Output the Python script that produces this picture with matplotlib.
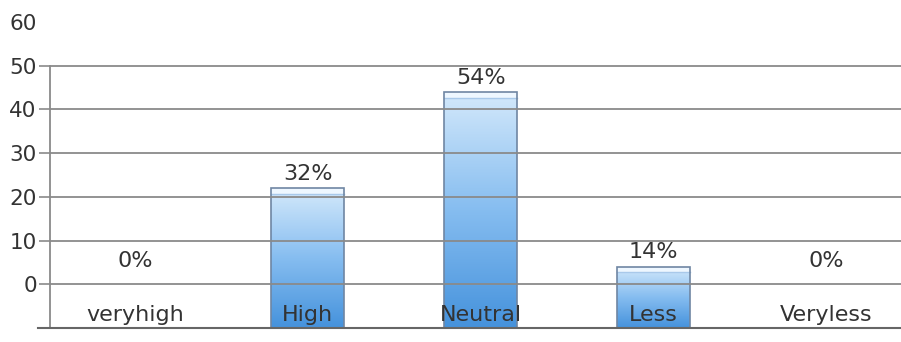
import numpy as np
import matplotlib
matplotlib.use('Agg')
import matplotlib.pyplot as plt
from matplotlib.colors import LinearSegmentedColormap

# data
categories = ["veryhigh", "High", "Neutral", "Less", "Veryless"]
percents = [0, 32, 54, 14, 0]
tick_values = [0, 10, 20, 30, 40, 50, 60]

# the printed y labels sit one step above the bar baseline
offset = 10

text_color = "#333333"
grid_color = "#8a8a8a"

fig = plt.figure(figsize=(9.01, 3.42), dpi=100)
ax = fig.add_axes([50 / 901, (342 - 328) / 342, 851 / 901, 306 / 342])

for s in ax.spines.values():
    s.set_visible(False)

# gridlines at the labelled ticks (no line at the top label)
for t in tick_values[:-1]:
    ax.axhline(t + offset, color=grid_color, lw=1.3, zorder=3)

# left axis line and baseline, running slightly past the axis
ax.plot([-0.49, -0.49], [0, tick_values[-2] + offset], color=grid_color, lw=1.3,
        zorder=3, clip_on=False)
ax.plot([-0.56, 4.43], [0, 0], color="#666666", lw=1.5, zorder=3, clip_on=False)

cmap = LinearSegmentedColormap.from_list("bar", ["#4592dc", "#86bdf0", "#d4e9fb"])
grad = np.linspace(0, 1, 256).reshape(-1, 1)
width = 0.42
bars = ax.bar(range(len(categories)), percents, width=width, facecolor="none",
              edgecolor="#6f86a3", lw=1.2, zorder=2)
for b, v in zip(bars, percents):
    if v <= 0:
        continue
    x0 = b.get_x()
    im = ax.imshow(grad, cmap=cmap, aspect="auto", origin="lower",
                   extent=[x0, x0 + width, 0, v], zorder=1)
    im.set_clip_path(b)
    # light cap at the top of the bar
    ax.fill_between([x0, x0 + width], v - 1.3, v, color="#eef7ff", zorder=1.5, lw=0)
    ax.plot([x0, x0 + width], [v - 1.3, v - 1.3], color="#a9c9ea", lw=1, zorder=1.6)

ax.set_xlim(-0.49, 4.43)
ax.set_ylim(0, 70)

for i, (c, v) in enumerate(zip(categories, percents)):
    ax.text(i, 1.5, c, ha="center", va="baseline", fontsize=16, color=text_color,
            zorder=5)
    ly = v + 1 if v > 0 else 13
    ax.text(i, ly, f"{v}%", ha="center", va="bottom", fontsize=16, color=text_color,
            zorder=5)

ax.set_xticks([])
ax.set_yticks([t + offset for t in tick_values])
ax.set_yticklabels([str(t) for t in tick_values], fontsize=15.5, color=text_color)
ax.tick_params(axis="y", length=8, width=1.2, color=grid_color, pad=1.5)
ax.yaxis.get_major_ticks()[-1].tick1line.set_visible(False)

fig.savefig("out.png", dpi=100)
